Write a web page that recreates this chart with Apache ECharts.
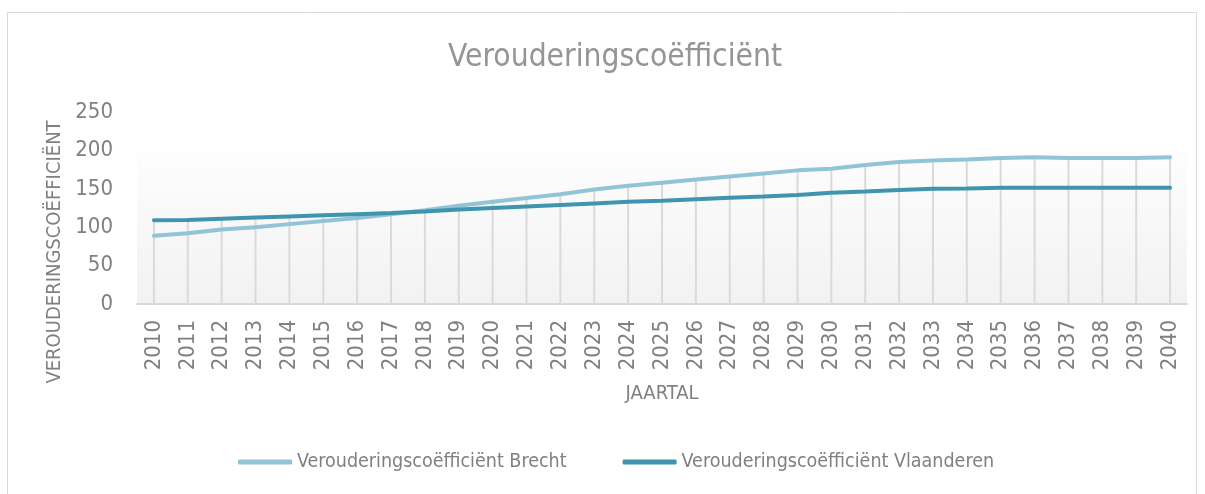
<!DOCTYPE html>
<html>
<head>
<meta charset="utf-8">
<script src="https://cdn.jsdelivr.net/npm/echarts@6/dist/echarts.min.js"></script>
<style>
  html, body { margin: 0; padding: 0; background: #fff; }
  #chart { width: 1205px; height: 494px; }
</style>
</head>
<body>
<div id="chart"></div>
<script>
const years = [
  "2010", "2011", "2012", "2013", "2014", "2015", "2016", "2017", "2018", "2019",
  "2020", "2021", "2022", "2023", "2024", "2025", "2026", "2027", "2028", "2029",
  "2030", "2031", "2032", "2033", "2034", "2035", "2036", "2037", "2038", "2039", "2040"
];
const brecht = [
  89, 92, 97, 100, 104, 108, 112, 117, 122, 128,
  133, 138, 143, 149, 154, 158, 162, 166, 170, 174,
  176, 181, 185, 187, 188, 190, 191, 190, 190, 190, 191
];
const vlaanderen = [
  109, 109.5, 111, 112.5, 114, 115.5, 117, 118.5, 120.5, 123,
  125, 127, 129, 131, 133, 134.5, 136.5, 138.5, 140, 142,
  145, 146.5, 148.5, 150, 150.5, 151.5, 151.5, 151.5, 151.5, 151.5, 151.5
];
const yTicks = [0, 50, 100, 150, 200, 250];

// drop lines: from the higher of the two series down to the axis
const dropLines = brecht.map((v, i) => Math.max(v, vlaanderen[i]));

const font = "'Liberation Sans Narrow', 'DejaVu Sans Condensed', sans-serif";
const grey = "#808080";

const chart = echarts.init(document.getElementById("chart"));
chart.setOption({
  backgroundColor: "#fff",
  animation: false,
  textStyle: { fontFamily: font },
  graphic: [
    {
      type: "rect",
      shape: { x: 7.5, y: 12.5, width: 1189, height: 490 },
      style: { fill: "none", stroke: "#d9d9d9", lineWidth: 1 },
      silent: true
    }
  ],
  title: {
    text: "Verouderingscoëfficiënt",
    left: 443,
    top: 37,
    textStyle: { fontFamily: font, fontSize: 31.5, fontWeight: "normal", color: "#959595" }
  },
  legend: {
    bottom: 17,
    left: 233,
    icon: "roundRect",
    itemWidth: 54,
    itemHeight: 5,
    itemGap: 56,
    textStyle: { fontFamily: font, fontSize: 19.5, color: grey },
    data: ["Verouderingscoëfficiënt Brecht", "Verouderingscoëfficiënt Vlaanderen"]
  },
  grid: {
    left: 137,
    right: 18,
    top: 112,
    bottom: 190,
    show: true,
    borderWidth: 0,
    backgroundColor: new echarts.graphic.LinearGradient(0, 0, 0, 1, [
      { offset: 0, color: "#ffffff" },
      { offset: 0.212, color: "#ffffff" },
      { offset: 0.215, color: "#fdfdfd" },
      { offset: 1, color: "#f2f2f2" }
    ])
  },
  xAxis: {
    type: "category",
    data: years,
    boundaryGap: true,
    name: "JAARTAL",
    nameLocation: "middle",
    nameGap: 80,
    nameTextStyle: { fontFamily: font, fontSize: 20, color: grey },
    axisLine: { lineStyle: { color: "#d9d9d9", width: 2 } },
    axisTick: { show: false },
    splitLine: { show: false },
    axisLabel: { rotate: 90, margin: 16, fontSize: 22, color: grey, fontFamily: font }
  },
  yAxis: {
    type: "value",
    min: yTicks[0],
    max: yTicks[yTicks.length - 1],
    interval: 50,
    name: "VEROUDERINGSCOËFFICIËNT",
    nameLocation: "middle",
    nameGap: 72,
    nameTextStyle: { fontFamily: font, fontSize: 20, color: grey, padding: [0, 88, 0, 0] },
    axisLine: { show: false },
    axisTick: { show: false },
    splitLine: { show: false },
    axisLabel: { margin: 24, fontSize: 22, color: grey, fontFamily: font }
  },
  series: [
    {
      name: "drop",
      type: "bar",
      data: dropLines,
      barWidth: 2,
      silent: true,
      z: 1,
      itemStyle: { color: "#dadada" }
    },
    {
      name: "Verouderingscoëfficiënt Brecht",
      type: "line",
      data: brecht,
      symbol: "none",
      z: 3,
      itemStyle: { color: "#92c4d8" },
      lineStyle: { width: 4, color: "#92c4d8", cap: "round" }
    },
    {
      name: "Verouderingscoëfficiënt Vlaanderen",
      type: "line",
      data: vlaanderen,
      symbol: "none",
      z: 4,
      itemStyle: { color: "#3f95ae" },
      lineStyle: { width: 4, color: "#3f95ae", cap: "round" }
    }
  ]
});
</script>
</body>
</html>
